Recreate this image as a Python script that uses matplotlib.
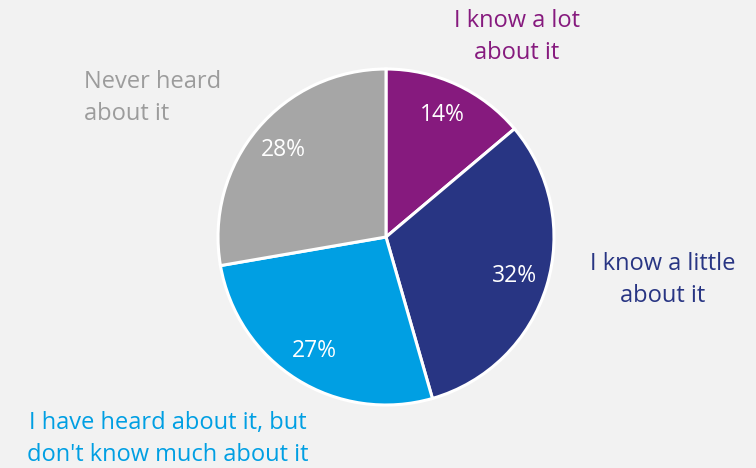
import matplotlib
matplotlib.use("Agg")
import matplotlib.pyplot as plt
import numpy as np

categories = ["I know a lot\nabout it", "I know a little\nabout it",
              "I have heard about it, but\ndon't know much about it", "Never heard\nabout it"]
values = [14, 32, 27, 28]
colors = ["#861A7E", "#283583", "#009FE3", "#A6A6A6"]
text_colors = ["#861A7E", "#283583", "#009FE3", "#9C9C9C"]

plt.rcParams['font.family'] = ['Open Sans', 'DejaVu Sans']
W, H = 756, 468
fig = plt.figure(figsize=(W / 100, H / 100), dpi=100, facecolor="#F2F2F2")
cx, cy, r = 386, 237, 168
ax = fig.add_axes([(cx - r) / W, (H - cy - r) / H, 2 * r / W, 2 * r / H])
ax.set_facecolor("#F2F2F2")
wedges, texts = ax.pie(values, colors=colors, startangle=90, counterclock=False,
                       radius=1, wedgeprops=dict(edgecolor="white", linewidth=2.2))
for w, v in zip(wedges, values):
    ang = np.deg2rad((w.theta1 + w.theta2) / 2)
    ax.text(0.8 * np.cos(ang), 0.8 * np.sin(ang), f"{v}%", color="white",
            ha="center", va="center", fontsize=16.5)
ax.set_xlim(-1, 1)
ax.set_ylim(-1, 1)
ax.axis("off")

fs = 17
ls = 1.4
fig.text(517 / W, 1 - 37 / H, categories[0], color=text_colors[0], ha="center", va="center",
         fontsize=fs, linespacing=ls)
fig.text(663 / W, 1 - 280 / H, categories[1], color=text_colors[1], ha="center", va="center",
         fontsize=fs, linespacing=ls)
fig.text(168 / W, 1 - 439 / H, categories[2], color=text_colors[2], ha="center", va="center",
         fontsize=fs, linespacing=ls)
fig.text(84 / W, 1 - 98 / H, categories[3], color=text_colors[3], ha="left", va="center",
         fontsize=fs, linespacing=ls)

fig.savefig("out.png", dpi=100, facecolor=fig.get_facecolor())
